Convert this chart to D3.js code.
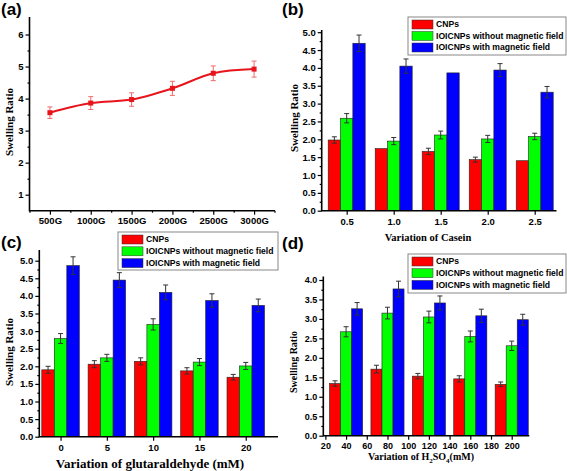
<!DOCTYPE html>
<html><head><meta charset="utf-8">
<script src="https://cdn.jsdelivr.net/npm/d3@7"></script>
<style>
body{margin:0;background:#fff;}
svg{display:block;}
</style></head><body>
<svg id="chart" width="567" height="471"></svg>
<script>
// ---------- DATA ----------
const seriesNames = ["CNPs", "IOICNPs without magnetic field", "IOICNPs with magnetic field"];
const seriesColors = ["#ff0000", "#00ff00", "#0000ff"];

// (a)
const aLabels = ["500G", "1000G", "1500G", "2000G", "2500G", "3000G"];
const aValues = [3.56, 3.86, 3.97, 4.32, 4.79, 4.92];
const aErrors = [0.18, 0.20, 0.21, 0.22, 0.23, 0.25];
const aYTicks = [1, 2, 3, 4, 5, 6];

// (b) casein
const bCats = ["0.5", "1.0", "1.5", "2.0", "2.5"];
const bCNPs = [1.98, 1.74, 1.66, 1.43, 1.40];
const bCNPsErr = [0.09, 0, 0.09, 0.07, 0];
const bWithout = [2.59, 1.95, 2.12, 2.01, 2.08];
const bWithoutErr = [0.13, 0.10, 0.11, 0.10, 0.09];
const bWith = [4.69, 4.05, 3.86, 3.94, 3.32];
const bWithErr = [0.23, 0.20, 0, 0.18, 0.16];
const bYTicks = [0, 0.5, 1, 1.5, 2, 2.5, 3, 3.5, 4, 4.5, 5];

// (c) glutaraldehyde
const cCats = ["0", "5", "10", "15", "20"];
const cCNPs = [1.90, 2.06, 2.14, 1.87, 1.69];
const cCNPsErr = [0.10, 0.10, 0.10, 0.09, 0.08];
const cWithout = [2.79, 2.24, 3.19, 2.12, 2.01];
const cWithoutErr = [0.14, 0.10, 0.16, 0.10, 0.10];
const cWith = [4.86, 4.45, 4.10, 3.87, 3.73];
const cWithErr = [0.25, 0.21, 0.21, 0.19, 0.18];
const cYTicks = [0, 0.5, 1, 1.5, 2, 2.5, 3, 3.5, 4, 4.5, 5];

// (d) H2SO4
const dX = [40, 80, 120, 160, 200];
const dCNPs = [1.34, 1.71, 1.53, 1.46, 1.32];
const dCNPsErr = [0.07, 0.10, 0.07, 0.08, 0.06];
const dWithout = [2.67, 3.15, 3.05, 2.55, 2.31];
const dWithoutErr = [0.13, 0.15, 0.15, 0.14, 0.12];
const dWith = [3.26, 3.77, 3.41, 3.08, 2.98];
const dWithErr = [0.16, 0.20, 0.18, 0.17, 0.14];
const dXTicks = [20, 40, 60, 80, 100, 120, 140, 160, 180, 200];
const dYTicks = [0, 0.5, 1, 1.5, 2, 2.5, 3, 3.5, 4];

// ---------- DRAW ----------
const svg = d3.select("#chart");
const SANS = "'Liberation Sans', Arial, sans-serif";
const SERIF = "'Liberation Serif', 'Times New Roman', serif";

function styleAxis(sel, fs) {
  sel.select(".domain").remove();
  sel.selectAll(".tick line").attr("stroke", "#000").attr("stroke-width", 1.2);
  sel.selectAll(".tick text").attr("fill", "#000")
    .style("font-family", SANS).style("font-weight", "bold").style("font-size", fs + "px");
}

function axisLines(x0, yTop, yBot, xRight) {
  svg.append("path")
    .attr("d", `M${x0},${yTop}V${yBot}H${xRight}`)
    .attr("fill", "none").attr("stroke", "#000").attr("stroke-width", 1.6);
}

function panelLabel(txt, x, y) {
  svg.append("text").attr("x", x).attr("y", y).text(txt)
    .style("font-family", SANS).style("font-weight", "bold").style("font-size", "17px");
}

function yTitle(x, yc, fs) {
  svg.append("text").attr("transform", `translate(${x},${yc}) rotate(-90)`)
    .attr("text-anchor", "middle").text("Swelling Ratio")
    .style("font-family", SERIF).style("font-weight", "bold").style("font-size", fs + "px");
}

function xTitle(x, y, fs, build) {
  const t = svg.append("text").attr("x", x).attr("y", y).attr("text-anchor", "middle")
    .style("font-family", SERIF).style("font-weight", "bold").style("font-size", fs + "px");
  if (typeof build === "string") t.text(build); else build(t);
}

function yAxis(y, x0, major, fmt, fs) {
  const minor = [];
  for (let i = 0; i < major.length - 1; i++) minor.push((major[i] + major[i + 1]) / 2);
  svg.append("g").attr("transform", `translate(${x0},0)`)
    .call(d3.axisLeft(y).tickValues(major).tickSize(4).tickPadding(2).tickFormat(fmt))
    .call(s => styleAxis(s, fs));
  svg.append("g").attr("transform", `translate(${x0},0)`)
    .call(d3.axisLeft(y).tickValues(minor).tickSize(2).tickFormat(""))
    .call(s => styleAxis(s, fs));
}

function legend(x, y, w, h, rowH) {
  const g = svg.append("g").attr("transform", `translate(${x},${y})`);
  g.append("rect").attr("width", w).attr("height", h).attr("fill", "#fff")
    .attr("stroke", "#888").attr("stroke-width", 1);
  seriesNames.forEach((n, i) => {
    const cy = 7 + i * rowH;
    g.append("rect").attr("x", 4).attr("y", cy - 4).attr("width", 21).attr("height", 9)
      .attr("fill", seriesColors[i]).attr("stroke", "#333").attr("stroke-width", 0.5);
    g.append("text").attr("x", 28).attr("y", cy + 3.3).text(n)
      .style("font-family", SANS).style("font-weight", "bold").style("font-size", "8.6px");
  });
}

function errBar(g, xc, y, v, e, color, cap) {
  if (!e) return;
  const p = d3.path();
  p.moveTo(xc, y(v - e)); p.lineTo(xc, y(v + e));
  p.moveTo(xc - cap, y(v + e)); p.lineTo(xc + cap, y(v + e));
  p.moveTo(xc - cap, y(v - e)); p.lineTo(xc + cap, y(v - e));
  g.append("path").attr("d", p.toString()).attr("stroke", color).attr("stroke-width", 1).attr("fill", "none");
}

function bars(groupCenters, groupWidth, y, vals, errs) {
  const g = svg.append("g");
  groupCenters.forEach((cx, i) => {
    const inner = d3.scaleBand().domain([0, 1, 2]).range([cx - groupWidth / 2, cx + groupWidth / 2]);
    vals.forEach((arr, k) => {
      g.append("rect").attr("x", inner(k)).attr("width", inner.bandwidth())
        .attr("y", y(arr[i])).attr("height", y(0) - y(arr[i]))
        .attr("fill", seriesColors[k]).attr("stroke", "#222").attr("stroke-width", 0.6);
    });
    vals.forEach((arr, k) => {
      errBar(g, inner(k) + inner.bandwidth() / 2, y, arr[i], errs[k][i], "#333", 2.5);
    });
  });
}

// ===== Panel (a) =====
{
  const x = d3.scaleLinear().domain([0.5, 6.5]).range([29.5, 274.5]);
  const y = d3.scaleLinear().domain([0.5, 6.5]).range([210.7, 18.5]);
  const idx = aLabels.map((d, i) => i + 1);
  yAxis(y, 29.5, aYTicks, d3.format("d"), 9.5);
  svg.append("g").attr("transform", "translate(0,210.7)")
    .call(d3.axisBottom(x).tickValues(idx).tickSize(4).tickPadding(3).tickFormat((d, i) => aLabels[i]))
    .call(s => styleAxis(s, 9.5));
  svg.append("g").attr("transform", "translate(0,210.7)")
    .call(d3.axisBottom(x).tickValues([0.5, 1.5, 2.5, 3.5, 4.5, 5.5, 6.5]).tickSize(2).tickFormat(""))
    .call(s => styleAxis(s, 9.5));
  axisLines(29.5, 17, 210.7, 275);
  const g = svg.append("g");
  g.append("path").datum(aValues)
    .attr("d", d3.line().x((d, i) => x(idx[i])).y(d => y(d)).curve(d3.curveCatmullRom.alpha(0.5)))
    .attr("fill", "none").attr("stroke", "#e8141b").attr("stroke-width", 2);
  aValues.forEach((v, i) => errBar(g, x(idx[i]), y, v, aErrors[i], "#f06a6a", 2.5));
  g.selectAll("rect.m").data(aValues).join("rect")
    .attr("x", (d, i) => x(idx[i]) - 2.5).attr("y", d => y(d) - 2.5)
    .attr("width", 5).attr("height", 5).attr("fill", "#e8141b");
  yTitle(12.5, 122, 11);
  panelLabel("(a)", 1, 15);
}

// ===== Panel (b) =====
{
  const y = d3.scaleLinear().domain([0, 5]).range([210.7, 32.2]);
  const xb = d3.scaleBand().domain(bCats).range([321.7, 559.7]).paddingInner(0.213).paddingOuter(0.138);
  const centers = bCats.map(c => xb(c) + xb.bandwidth() / 2);
  const xc = d3.scalePoint().domain(bCats).range([centers[0], centers[4]]);
  yAxis(y, 321.7, bYTicks, d3.format(".1f"), 9.5);
  svg.append("g").attr("transform", "translate(0,210.7)")
    .call(d3.axisBottom(xc).tickSize(4).tickPadding(4))
    .call(s => styleAxis(s, 9.5));
  bars(centers, xb.bandwidth(), y, [bCNPs, bWithout, bWith], [bCNPsErr, bWithoutErr, bWithErr]);
  axisLines(321.7, 30, 210.7, 556.5);
  yTitle(298, 118, 11);
  xTitle(428, 240.5, 10.5, "Variation of Casein");
  legend(408, 17, 158, 38, 11.5);
  panelLabel("(b)", 282, 15);
}

// ===== Panel (c) =====
{
  const y = d3.scaleLinear().domain([0, 5]).range([436.7, 260.7]);
  const xb = d3.scaleBand().domain(cCats).range([37.4, 268.9]).paddingInner(0.19).paddingOuter(0.095);
  const centers = cCats.map(c => xb(c) + xb.bandwidth() / 2);
  const xc = d3.scalePoint().domain(cCats).range([centers[0], centers[4]]);
  yAxis(y, 39.3, cYTicks, d3.format(".1f"), 9.5);
  svg.append("g").attr("transform", "translate(0,436.7)")
    .call(d3.axisBottom(xc).tickSize(4).tickPadding(4))
    .call(s => styleAxis(s, 9.5));
  bars(centers, xb.bandwidth(), y, [cCNPs, cWithout, cWith], [cCNPsErr, cWithoutErr, cWithErr]);
  axisLines(39.3, 250, 436.7, 278);
  yTitle(13, 352, 11);
  xTitle(150, 468, 13, "Variation of glutaraldehyde (mM)");
  legend(118, 232, 160, 38, 11.8);
  panelLabel("(c)", 1, 248);
}

// ===== Panel (d) =====
{
  const y = d3.scaleLinear().domain([0, 4]).range([435.7, 280]);
  const x = d3.scaleLinear().domain([18, 217]).range([323.3, 529.3]);
  yAxis(y, 323.3, dYTicks, d3.format(".1f"), 9);
  svg.append("g").attr("transform", "translate(0,435.7)")
    .call(d3.axisBottom(x).tickValues(dXTicks).tickSize(4).tickPadding(3).tickFormat(d3.format("d")))
    .call(s => styleAxis(s, 9));
  const centers = dX.map(v => x(v));
  bars(centers, x(40 + 16) - x(40 - 16), y, [dCNPs, dWithout, dWith], [dCNPsErr, dWithoutErr, dWithErr]);
  axisLines(323.3, 276.5, 435.7, 529.3);
  yTitle(296.5, 362, 10);
  xTitle(421, 460, 10, t => {
    t.append("tspan").text("Variation of H");
    t.append("tspan").text("2").attr("dy", 2.5).style("font-size", "7px");
    t.append("tspan").text("SO").attr("dy", -2.5);
    t.append("tspan").text("4").attr("dy", 2.5).style("font-size", "7px");
    t.append("tspan").text("(mM)").attr("dy", -2.5);
  });
  legend(408, 254, 158, 39, 11.7);
  panelLabel("(d)", 282, 249);
}
</script>
</body></html>
